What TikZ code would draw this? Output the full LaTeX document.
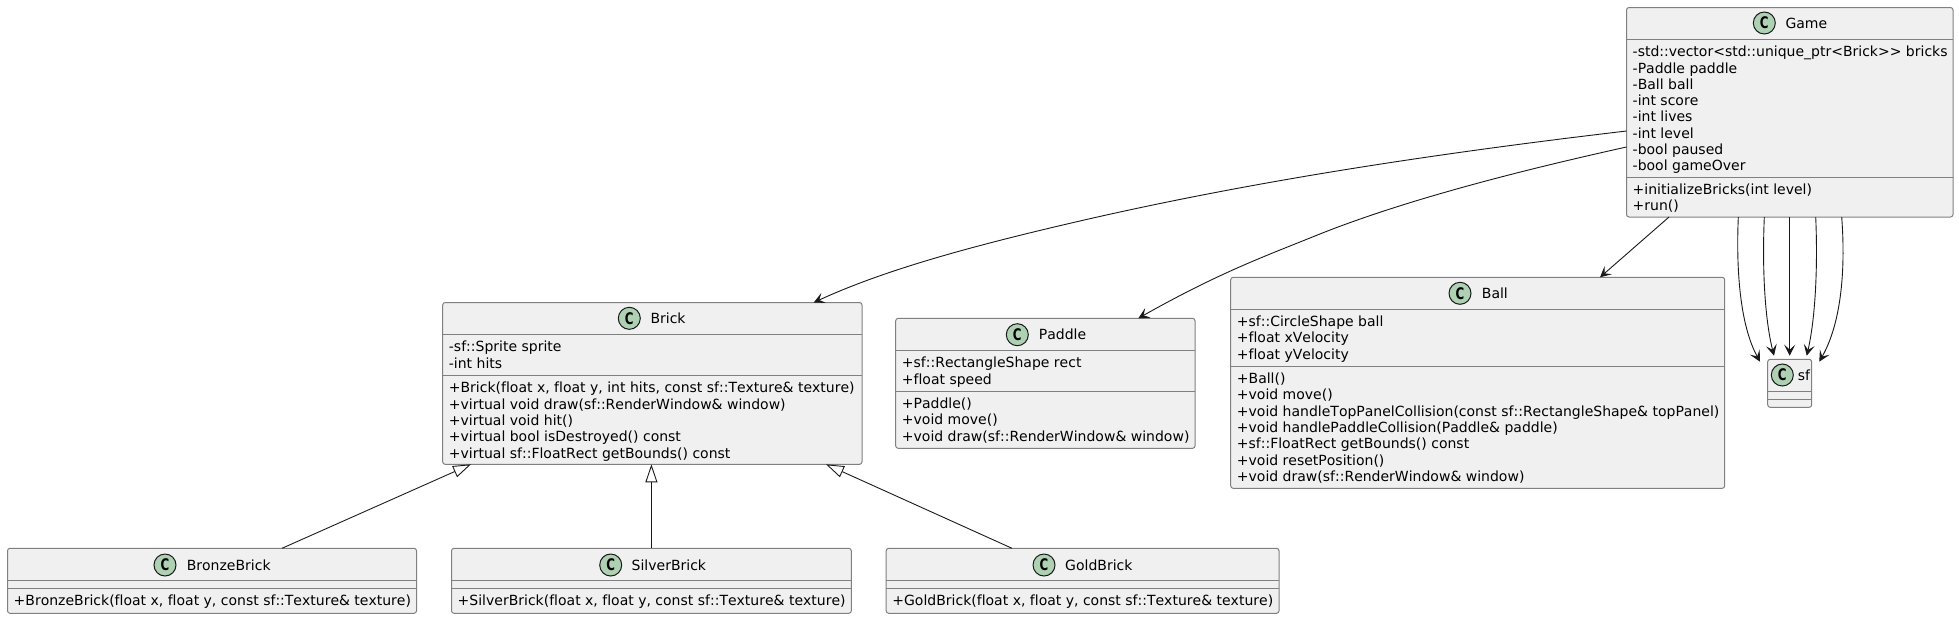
\documentclass[tikz,border=0pt]{standalone}
\usepackage{fontspec}
\setmainfont[Ligatures={NoCommon,TeXOff},Kerning=Off]{DejaVu Sans}
\usetikzlibrary{arrows.meta}
\definecolor{spotgreen}{RGB}{173,209,178}
\newcommand{\lineup}{\rule{0pt}{11pt}}
\newcommand{\spotC}{\scalebox{0.74}[1]{\textbf{C}}}
\tikzset{
 classbox/.style={draw=black!50,fill=black!6,line width=1pt,rounded corners=2.5pt,anchor=north west,inner sep=0pt,outer sep=0pt},
 spot/.style={circle,draw=black!90,fill=spotgreen,line width=1pt,minimum size=22pt,inner sep=0pt,font=\fontsize{16}{16}\selectfont},
 title/.style={anchor=base west,inner sep=0pt,font=\fontsize{14}{16.3}\selectfont},
 member/.style={anchor=north west,align=left,inner sep=0pt,font=\fontsize{14}{16.3}\selectfont},
 rule/.style={draw=black!50,line width=1pt},
 assoc/.style={draw=black!90,line width=0.9pt,-{Stealth[length=11pt,width=11pt,inset=5pt]}},
 extends/.style={draw=black!90,line width=0.9pt,-{Triangle[open,fill=white,length=18pt,width=12pt]}}
}
\begin{document}
\begin{tikzpicture}[x=1pt,y=-1pt]
 \useasboundingbox (0,0) rectangle (1959,619);
 \node[classbox,minimum width=326.5pt,minimum height=209.5pt] (game) at (1626.5,7.5) {};
 \draw[rule] (1626.5,39.5) -- (1953,39.5);
 \draw[rule] (1626.5,177) -- (1953,177);
 \node[spot] (gamespot) at (1764.3,23) {\spotC};
 \node[title] (gametitle) at (1785.3,28) {Game};
 \node[member] (gameattr) at (1632.5,45.5) {\lineup-std::vector<std::unique\_ptr<Brick>> bricks\\-Paddle paddle\\-Ball ball\\-int score\\-int lives\\-int level\\-bool paused\\-bool gameOver};
 \node[member] (gameop) at (1632.5,183) {\lineup+initializeBricks(int level)\\+run()};

 \node[classbox,minimum width=419.3pt,minimum height=161.8pt] (brick) at (442.7,302.5) {};
 \draw[rule] (442.7,334.5) -- (862,334.5);
 \draw[rule] (442.7,375.6) -- (862,375.6);
 \node[spot] (brickspot) at (629.3,318.3) {\spotC};
 \node[title] (bricktitle) at (650.3,323.3) {Brick};
 \node[member] (brickattr) at (448.7,340.5) {\lineup-sf::Sprite sprite\\-int hits};
 \node[member] (brickop) at (448.7,381.6) {\lineup+Brick(float x, float y, int hits, const sf::Texture\& texture)\\+virtual void draw(sf::RenderWindow\& window)\\+virtual void hit()\\+virtual bool isDestroyed() const\\+virtual sf::FloatRect getBounds() const};

 \node[classbox,minimum width=299.3pt,minimum height=130pt] (paddle) at (895.7,318.3) {};
 \draw[rule] (895.7,350.7) -- (1195,350.7);
 \draw[rule] (895.7,391.3) -- (1195,391.3);
 \node[spot] (paddlespot) at (1017.3,334.7) {\spotC};
 \node[title] (paddletitle) at (1038.7,339.7) {Paddle};
 \node[member] (paddleattr) at (901.7,356.7) {\lineup+sf::RectangleShape rect\\+float speed};
 \node[member] (paddleop) at (901.7,397.3) {\lineup+Paddle()\\+void move()\\+void draw(sf::RenderWindow\& window)};

 \node[classbox,minimum width=494pt,minimum height=211pt] (ball) at (1230.7,277.3) {};
 \draw[rule] (1230.7,309.3) -- (1724.7,309.3);
 \draw[rule] (1230.7,366.3) -- (1724.7,366.3);
 \node[spot] (ballspot) at (1460,293.3) {\spotC};
 \node[title] (balltitle) at (1481.7,298.3) {Ball};
 \node[member] (ballattr) at (1236.7,315.3) {\lineup+sf::CircleShape ball\\+float xVelocity\\+float yVelocity};
 \node[member] (ballop) at (1236.7,372.3) {\lineup+Ball()\\+void move()\\+void handleTopPanelCollision(const sf::RectangleShape\& topPanel)\\+void handlePaddleCollision(Paddle\& paddle)\\+sf::FloatRect getBounds() const\\+void resetPosition()\\+void draw(sf::RenderWindow\& window)};

 \node[classbox,minimum width=44pt,minimum height=48pt] (sf) at (1767.7,359.3) {};
 \draw[rule] (1767.7,391.3) -- (1811.7,391.3);
 \draw[rule] (1767.7,399.3) -- (1811.7,399.3);
 \node[spot] (sfspot) at (1782.3,375) {\spotC};
 \node[title] (sftitle) at (1797.7,380) {sf};

 \node[classbox,minimum width=409pt,minimum height=65pt] (bronze) at (7.5,548.3) {};
 \draw[rule] (7.5,580.3) -- (416.5,580.3);
 \draw[rule] (7.5,588.3) -- (416.5,588.3);
 \node[spot] (bronzespot) at (165,565) {\spotC};
 \node[title] (bronzetitle) at (186.6,570) {BronzeBrick};
 \node[member] (bronzeop) at (13.5,594.3) {\lineup+BronzeBrick(float x, float y, const sf::Texture\& texture)};

 \node[classbox,minimum width=399.8pt,minimum height=65pt] (silver) at (451.5,548.3) {};
 \draw[rule] (451.5,580.3) -- (851.3,580.3);
 \draw[rule] (451.5,588.3) -- (851.3,588.3);
 \node[spot] (silverspot) at (610.7,565) {\spotC};
 \node[title] (silvertitle) at (631.5,570) {SilverBrick};
 \node[member] (silverop) at (457.5,594.3) {\lineup+SilverBrick(float x, float y, const sf::Texture\& texture)};

 \node[classbox,minimum width=392.8pt,minimum height=65pt] (gold) at (886.2,548.3) {};
 \draw[rule] (886.2,580.3) -- (1279,580.3);
 \draw[rule] (886.2,588.3) -- (1279,588.3);
 \node[spot] (goldspot) at (1044,565) {\spotC};
 \node[title] (goldtitle) at (1065,570) {GoldBrick};
 \node[member] (goldop) at (892.2,594.3) {\lineup+GoldBrick(float x, float y, const sf::Texture\& texture)};

 \draw[extends] ([xshift=274.5pt]bronze.north west) -- ([xshift=28.3pt]brick.south west);
 \draw[extends] ([xshift=199.9pt]silver.north west) -- ([xshift=208.7pt]brick.south west);
 \draw[extends] ([xshift=125.8pt]gold.north west) -- ([xshift=383.3pt]brick.south west);

 \draw[assoc] ([yshift=-123.5pt]game.north west) .. controls (1440,153) and (1250,181) .. (1067,224) .. controls (960,249) and (880,272) .. ([xshift=371pt]brick.north west);
 \draw[assoc] ([yshift=-139.5pt]game.north west) .. controls (1500,175) and (1390,205) .. (1310,238) .. controls (1260,258) and (1215,275) .. ([xshift=242.6pt]paddle.north west);
 \draw[assoc] ([xshift=42.5pt]game.south west) -- ([xshift=369.3pt]ball.north west);
 \draw[assoc] ([xshift=111.8pt]game.south west) .. controls (1736,270) and (1740,325) .. ([xshift=-7.7pt,yshift=-2.4pt]sf.north west);
 \draw[assoc] ([xshift=137.8pt]game.south west) .. controls (1762,270) and (1765,320) .. ([xshift=6.3pt,yshift=3.6pt]sf.north west);
 \draw[assoc] ([xshift=163.2pt]game.south west) -- ([xshift=22pt,yshift=3.6pt]sf.north west);
 \draw[assoc] ([xshift=189.2pt]game.south west) .. controls (1818,270) and (1815,320) .. ([xshift=39pt,yshift=3.6pt]sf.north west);
 \draw[assoc] ([xshift=215.2pt]game.south west) .. controls (1846,275) and (1840,325) .. ([xshift=7.6pt,yshift=-2.4pt]sf.north east);
\end{tikzpicture}
\end{document}
